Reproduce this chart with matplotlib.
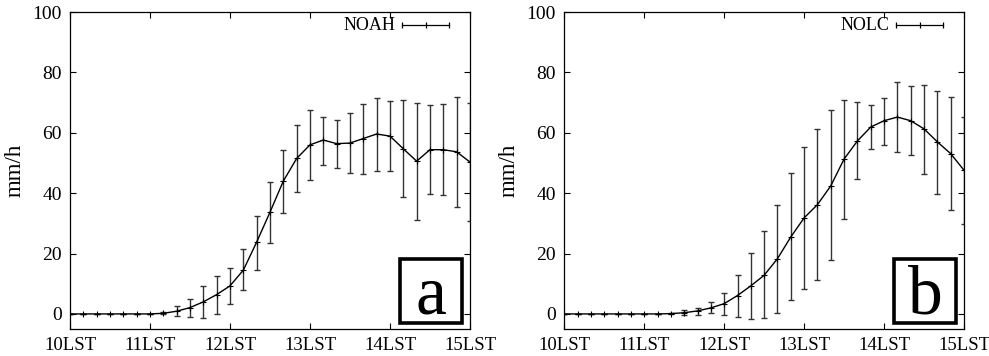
import matplotlib
matplotlib.use("Agg")
import matplotlib.pyplot as plt
from matplotlib.patches import Rectangle
import numpy as np

plt.rcParams['font.family'] = ['Liberation Serif', 'DejaVu Serif']
plt.rcParams['font.size'] = 14

# minutes after 10LST, one value every 10 minutes
minutes = np.arange(0, 310, 10)
tick_pos = [0, 60, 120, 180, 240, 300]
tick_labels = ["10LST", "11LST", "12LST", "13LST", "14LST", "15LST"]

# NOAH: mean and error bar low/high
noah_mean = [0, 0, 0, 0, 0, 0, 0, 0.2, 0.9, 2.1, 4.0, 6.4, 9.3, 14.5, 23.8, 33.7,
             44.0, 51.5, 56.0, 57.6, 56.4, 56.6, 58.1, 59.6, 58.9, 54.7, 50.6,
             54.4, 54.4, 53.7, 50.3]
noah_low = [0, 0, 0, 0, 0, 0, 0, 0.0, -0.8, -1.0, -1.2, -0.1, 3.4, 7.8, 14.6, 23.6,
            33.3, 40.3, 44.3, 49.4, 48.2, 46.7, 46.3, 47.3, 47.2, 38.8, 31.0,
            39.7, 39.3, 35.5, 30.8]
noah_high = [0, 0, 0, 0, 0, 0, 0, 0.5, 2.5, 5.1, 9.3, 12.6, 15.2, 21.4, 32.4, 43.8,
             54.4, 62.5, 67.5, 65.3, 64.2, 66.4, 69.7, 71.6, 70.5, 70.8, 69.9,
             69.1, 69.4, 71.7, 69.9]

# NOLC
nolc_mean = [0, 0, 0, 0, 0, 0, 0, 0, 0.1, 0.4, 1.0, 2.0, 3.4, 6.1, 9.3, 12.8,
             18.3, 25.5, 31.8, 36.2, 42.4, 51.3, 57.3, 61.9, 64.0, 65.2, 64.0,
             61.3, 57.0, 53.1, 47.6]
nolc_low = [0, 0, 0, 0, 0, 0, 0, 0, 0.0, -0.3, -0.3, 0.3, -0.4, -1.0, -1.8, -1.5,
            0.4, 4.5, 8.3, 11.4, 17.8, 31.4, 44.6, 54.6, 56.1, 53.7, 52.6,
            46.4, 39.7, 34.4, 29.9]
nolc_high = [0, 0, 0, 0, 0, 0, 0, 0, 0.3, 1.2, 2.1, 3.8, 7.0, 12.9, 20.2, 27.4,
             36.2, 46.6, 55.2, 61.1, 67.4, 71.0, 70.2, 69.1, 71.6, 76.7, 75.4,
             75.9, 74.0, 72.0, 65.1]

fig = plt.figure(figsize=(9.89, 3.56), dpi=100)
ax1 = fig.add_axes([0.0708, 0.0758, 0.4044, 0.8904])
ax2 = fig.add_axes([0.5706, 0.0758, 0.4041, 0.8904])


def draw(ax, mean, low, high, name, letter):
    mean = np.array(mean)
    err = [mean - np.array(low), np.array(high) - mean]
    ax.errorbar(minutes, mean, yerr=err, fmt='none', ecolor='#333333',
                elinewidth=1.0, capsize=2.2, capthick=1.0)
    ax.plot(minutes, mean, color='black', lw=1.0, marker='+', ms=4, mew=0.8)
    ax.set_xlim(0, 300)
    ax.set_ylim(-5, 100)
    ax.set_yticks([0, 20, 40, 60, 80, 100])
    ax.set_xticks(tick_pos)
    ax.set_xticklabels(tick_labels)
    ax.tick_params(direction='in', top=True, right=True, length=4, width=0.8,
                   labelsize=14, pad=6)
    ax.tick_params(axis='x', labelsize=13.5)
    for s in ax.spines.values():
        s.set_linewidth(0.9)
    ax.set_ylabel("mm/h", fontsize=16.5, labelpad=5)

    # legend in gnuplot style
    ax.text(0.8125, 0.959, name, transform=ax.transAxes, ha='right',
            va='center', fontsize=13)
    ax.plot([0.83, 0.9475], [0.959, 0.959], transform=ax.transAxes,
            color='black', lw=0.9)
    ax.plot([0.83, 0.889, 0.9475], [0.959, 0.959, 0.959],
            transform=ax.transAxes, ls='none', marker='|', ms=5,
            color='black', mew=0.9)

    # panel letter box
    ax.add_patch(Rectangle((0.826, 0.02), 0.155, 0.2, transform=ax.transAxes,
                           fill=False, lw=2.6, ec='black'))
    ax.text(0.9035, 0.05, letter, transform=ax.transAxes, ha='center',
            va='baseline', fontsize=50)


draw(ax1, noah_mean, noah_low, noah_high, "NOAH", "a")
draw(ax2, nolc_mean, nolc_low, nolc_high, "NOLC", "b")

fig.savefig("out.png", dpi=100)
